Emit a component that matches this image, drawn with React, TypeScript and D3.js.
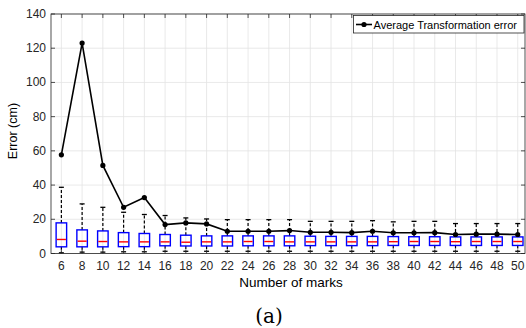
import React, { useEffect, useRef } from 'react'
import * as d3 from 'd3'

const marks = [6, 8, 10, 12, 14, 16, 18, 20, 22, 24, 26, 28, 30, 32, 34, 36, 38, 40, 42, 44, 46, 48, 50]
const meanErr = [57.7, 123, 51.5, 27, 32.7, 16.9, 17.9, 17.3, 13, 13, 13, 13.4, 12.4, 12.4, 12.2, 13, 12.1, 12.1, 12.2, 11.1, 11.3, 11.3, 11.1]
const whiskerHigh = [38.7, 29, 27, 24.1, 22.8, 22.2, 20.8, 20.2, 19.8, 19.8, 19.8, 19.8, 18.8, 18.8, 18.8, 19.2, 18.5, 18.8, 18.8, 17.5, 17.5, 17.5, 17.5]
const q3 = [17.9, 13.8, 13.2, 12.2, 11.7, 11.1, 10.7, 10.3, 10.3, 10.3, 10.3, 10.3, 10.1, 10, 10, 10, 9.9, 9.8, 9.8, 9.7, 9.7, 9.7, 9.7]
const median = [8.2, 7.2, 7, 6.8, 6.8, 6.8, 6.6, 6.8, 6.8, 7, 7, 6.8, 6.8, 6.8, 6.8, 6.8, 6.9, 7, 7, 6.9, 7, 7, 7]
const q1 = [3.9, 3.9, 3.9, 4, 4, 4.5, 4.4, 4.4, 4.4, 4.5, 4.5, 4.5, 4.6, 4.6, 4.6, 4.6, 4.7, 4.7, 4.7, 4.7, 4.7, 4.7, 4.7]
const whiskerLow = [0.4, 0.8, 0.8, 1, 1, 1.3, 1.3, 1.3, 1.3, 1.3, 1.3, 1.3, 1.3, 1.3, 1.3, 1.3, 1.3, 1.3, 1.3, 1.3, 1.3, 1.3, 1.3]
const yTicks = [0, 20, 40, 60, 80, 100, 120, 140]
const legendLabel = 'Average Transformation error'

function App() {
  const svgRef = useRef<SVGSVGElement>(null)

  useEffect(() => {
    const width = 526
    const height = 328
    const left = 51, right = 525, top = 14, bottom = 253.5
    const axisColor = '#262626'
    const font = '"Liberation Sans", Arial, Helvetica, sans-serif'

    const svg = d3.select(svgRef.current)
      .attr('width', width)
      .attr('height', height)
    svg.selectAll('*').remove()

    // scales
    const x = d3.scaleLinear().domain([5, 50.7]).range([left, right])
    const y = d3.scaleLinear().domain([0, 140]).range([bottom, top])

    svg.append('rect')
      .attr('x', left).attr('y', top)
      .attr('width', right - left).attr('height', bottom - top)
      .attr('fill', '#fff')

    // grid
    const grid = svg.append('g').attr('stroke', '#e3e3e3').attr('stroke-width', 0.8)
    grid.selectAll('line.gx').data(marks).join('line')
      .attr('x1', d => x(d)).attr('x2', d => x(d))
      .attr('y1', top).attr('y2', bottom)
    grid.selectAll('line.gy').data(yTicks).join('line')
      .attr('x1', left).attr('x2', right)
      .attr('y1', d => y(d)).attr('y2', d => y(d))

    // box plots
    const idx = d3.range(marks.length)
    const boxW = 10.5
    const capW = 5
    const boxes = svg.append('g')
    // whiskers (dashed)
    boxes.selectAll('line.wh').data(idx).join('line')
      .attr('x1', i => x(marks[i])).attr('x2', i => x(marks[i]))
      .attr('y1', i => y(q3[i])).attr('y2', i => y(whiskerHigh[i]))
      .attr('stroke', '#000').attr('stroke-width', 1.2).attr('stroke-dasharray', '3,2')
    boxes.selectAll('line.wl').data(idx).join('line')
      .attr('x1', i => x(marks[i])).attr('x2', i => x(marks[i]))
      .attr('y1', i => y(q1[i])).attr('y2', i => y(whiskerLow[i]))
      .attr('stroke', '#000').attr('stroke-width', 1.2).attr('stroke-dasharray', '3,2')
    boxes.selectAll('line.ch').data(idx).join('line')
      .attr('x1', i => x(marks[i]) - capW / 2).attr('x2', i => x(marks[i]) + capW / 2)
      .attr('y1', i => y(whiskerHigh[i])).attr('y2', i => y(whiskerHigh[i]))
      .attr('stroke', '#000').attr('stroke-width', 1.3)
    boxes.selectAll('line.cl').data(idx).join('line')
      .attr('x1', i => x(marks[i]) - capW / 2).attr('x2', i => x(marks[i]) + capW / 2)
      .attr('y1', i => y(whiskerLow[i])).attr('y2', i => y(whiskerLow[i]))
      .attr('stroke', '#000').attr('stroke-width', 1.3)
    boxes.selectAll('rect').data(idx).join('rect')
      .attr('x', i => x(marks[i]) - boxW / 2)
      .attr('width', boxW)
      .attr('y', i => y(q3[i]))
      .attr('height', i => y(q1[i]) - y(q3[i]))
      .attr('fill', 'none').attr('stroke', '#0000ff').attr('stroke-width', 1.4)
    boxes.selectAll('line.md').data(idx).join('line')
      .attr('x1', i => x(marks[i]) - boxW / 2 + 0.7).attr('x2', i => x(marks[i]) + boxW / 2 - 0.7)
      .attr('y1', i => y(median[i])).attr('y2', i => y(median[i]))
      .attr('stroke', '#ff0000').attr('stroke-width', 1.4)

    // mean line
    const line = d3.line<number>()
      .x(i => x(marks[i]))
      .y(i => y(meanErr[i]))
    svg.append('path')
      .datum(idx)
      .attr('d', line)
      .attr('fill', 'none').attr('stroke', '#000').attr('stroke-width', 1.6)
    svg.append('g').selectAll('circle').data(idx).join('circle')
      .attr('cx', i => x(marks[i])).attr('cy', i => y(meanErr[i]))
      .attr('r', 2.6).attr('fill', '#000')

    // axes box and ticks
    svg.append('rect')
      .attr('x', left).attr('y', top)
      .attr('width', right - left).attr('height', bottom - top)
      .attr('fill', 'none').attr('stroke', axisColor).attr('stroke-width', 0.8)
    const ticks = svg.append('g').attr('stroke', axisColor).attr('stroke-width', 0.8)
    const tl = 4
    ticks.selectAll('line.tt').data(marks).join('line')
      .attr('x1', d => x(d)).attr('x2', d => x(d)).attr('y1', top).attr('y2', top + tl)
    ticks.selectAll('line.tb').data(marks).join('line')
      .attr('x1', d => x(d)).attr('x2', d => x(d)).attr('y1', bottom).attr('y2', bottom - tl)
    ticks.selectAll('line.tlft').data(yTicks).join('line')
      .attr('x1', left).attr('x2', left + tl).attr('y1', d => y(d)).attr('y2', d => y(d))
    ticks.selectAll('line.trgt').data(yTicks).join('line')
      .attr('x1', right).attr('x2', right - tl).attr('y1', d => y(d)).attr('y2', d => y(d))

    // tick labels
    svg.append('g').selectAll('text').data(marks).join('text')
      .attr('x', d => x(d)).attr('y', bottom + 16)
      .attr('text-anchor', 'middle')
      .attr('font-family', font).attr('font-size', 12).attr('fill', axisColor)
      .text(d => d)
    svg.append('g').selectAll('text').data(yTicks).join('text')
      .attr('x', left - 5).attr('y', d => y(d) + 4)
      .attr('text-anchor', 'end')
      .attr('font-family', font).attr('font-size', 12).attr('fill', axisColor)
      .text(d => d)

    // axis titles
    svg.append('text')
      .attr('x', 291).attr('y', 287)
      .attr('text-anchor', 'middle')
      .attr('font-family', font).attr('font-size', 13.5).attr('fill', '#000')
      .text('Number of marks')
    svg.append('text')
      .attr('transform', `translate(17,131) rotate(-90)`)
      .attr('text-anchor', 'middle')
      .attr('font-family', font).attr('font-size', 12.5).attr('fill', '#000')
      .text('Error (cm)')
    svg.append('text')
      .attr('x', 269).attr('y', 323)
      .attr('text-anchor', 'middle')
      .attr('font-family', '"DejaVu Serif", "Liberation Serif", serif').attr('font-size', 20).attr('fill', '#000')
      .text('(a)')

    // legend
    const lg = svg.append('g')
    lg.append('rect')
      .attr('x', 353.5).attr('y', 15.5).attr('width', 170.5).attr('height', 17.5)
      .attr('fill', '#fff').attr('stroke', axisColor).attr('stroke-width', 0.8)
    lg.append('line')
      .attr('x1', 356).attr('x2', 372).attr('y1', 24.5).attr('y2', 24.5)
      .attr('stroke', '#000').attr('stroke-width', 1.6)
    lg.append('circle').attr('cx', 364).attr('cy', 24.5).attr('r', 2.6).attr('fill', '#000')
    lg.append('text')
      .attr('x', 373.5).attr('y', 28.5)
      .attr('font-family', font).attr('font-size', 11).attr('fill', '#000')
      .text(legendLabel)
  }, [])

  return (
    <svg ref={svgRef} style={{ position: 'absolute', left: 0, top: 0, background: '#fff' }}></svg>
  )
}

export default App
